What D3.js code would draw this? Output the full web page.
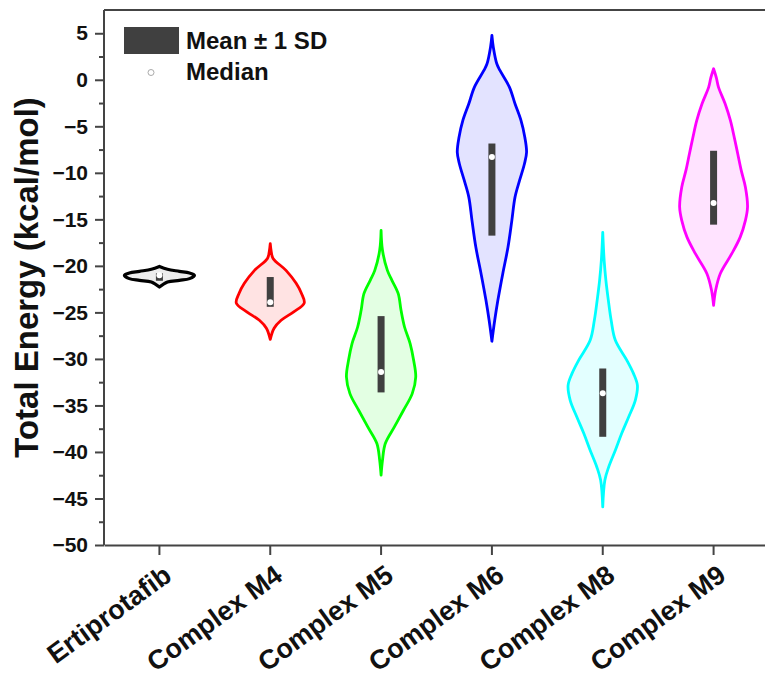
<!DOCTYPE html>
<html>
<head>
<meta charset="utf-8">
<script src="https://cdn.jsdelivr.net/npm/d3@7"></script>
<style>
  body { margin: 0; background: #fff; }
  svg { display: block; font-family: "Liberation Sans", Arial, sans-serif; font-weight: bold; }
</style>
</head>
<body>
<svg id="violin-plot"></svg>
<script>
// categories and summary stats
const groups = ["Ertiprotafib", "Complex M4", "Complex M5", "Complex M6", "Complex M8", "Complex M9"];
const means = [-21.2, -22.8, -29.5, -11.8, -34.7, -11.6];
const sds = [0.4, 1.6, 4.1, 4.95, 3.67, 3.97];
const medians = [-21.0, -23.9, -31.4, -8.3, -33.7, -13.25];

// violin outlines: energy levels (top to bottom) and relative density at each
const violinEnergy = [
    [-20.06, -20.37, -20.59, -20.77, -21.01, -21.37, -21.56, -21.74, -22.28],
    [-17.6, -18.5, -19.2, -20.48, -21.88, -22.95, -24.0, -24.96, -25.85, -26.7, -27.9],
    [-16.2, -18.33, -20.48, -21.55, -22.99, -24.78, -26.57, -28.36, -30.15, -31.94, -33.73, -35.52, -37.31, -39.1, -40.89, -42.5],
    [4.76, 3.5, 1.72, 1.0, -0.79, -2.58, -4.37, -6.17, -7.78, -9.02, -10.82, -12.61, -15.11, -17.98, -20.84, -23.7, -25.85, -28.1],
    [-16.4, -19.4, -21.56, -23.71, -25.85, -28.0, -30.15, -31.58, -32.84, -34.45, -36.24, -38.02, -39.81, -41.61, -43.04, -45.91],
    [1.18, 0.2, -0.79, -2.58, -4.37, -6.17, -7.95, -9.74, -11.54, -13.68, -15.11, -16.91, -18.69, -20.84, -22.6, -24.24]
];
const violinDensity = [
    [0, 0.23, 0.57, 0.86, 1.0, 0.86, 0.57, 0.23, 0],
    [0, 0.03, 0.08, 0.45, 0.74, 0.89, 0.97, 0.66, 0.31, 0.11, 0],
    [0, 0.04, 0.18, 0.31, 0.49, 0.57, 0.67, 0.83, 0.93, 0.99, 0.89, 0.64, 0.38, 0.12, 0.04, 0],
    [0, 0.04, 0.14, 0.23, 0.5, 0.66, 0.83, 0.94, 0.99, 0.93, 0.79, 0.66, 0.57, 0.46, 0.31, 0.17, 0.08, 0],
    [0, 0.04, 0.09, 0.16, 0.24, 0.36, 0.69, 0.88, 0.99, 0.93, 0.74, 0.54, 0.36, 0.17, 0.06, 0],
    [0, 0.08, 0.14, 0.33, 0.48, 0.59, 0.69, 0.79, 0.91, 0.97, 0.91, 0.76, 0.52, 0.19, 0.06, 0]
];

const majorTicks = d3.range(-50, 5.1, 5);
const minorTicks = d3.range(-47.5, 7.5, 5);
const legendLabels = ["Mean \u00b1 1 SD", "Median"];
const yTitle = "Total Energy (kcal/mol)";

const colors = ["#000000", "#ff0000", "#00ff00", "#0000ff", "#00ffff", "#ff00ff"];

const width = 765, height = 679;
const margin = { top: 10, left: 104, bottom: 134 };
const plotRight = 769;

const svg = d3.select("#violin-plot")
    .attr("width", width)
    .attr("height", height);

svg.append("rect").attr("width", width).attr("height", height).attr("fill", "#fff");

const x = d3.scaleBand()
    .domain(groups)
    .range([margin.left, plotRight]);

const y = d3.scaleLinear()
    .domain([-50, 7.5])
    .range([height - margin.bottom, margin.top]);

const w = d3.scaleLinear().domain([0, 1]).range([0, 35]);

// violins
groups.forEach((g, i) => {
    const cx = x(g) + x.bandwidth() / 2;
    const pts = violinEnergy[i].map((e, k) => ({ e: e, d: violinDensity[i][k] }));
    const area = d3.area()
        .y(d => y(d.e))
        .x0(d => cx - w(d.d))
        .x1(d => cx + w(d.d))
        .curve(d3.curveCatmullRom.alpha(0.5));
    svg.append("path")
        .datum(pts)
        .attr("d", area)
        .attr("fill", colors[i])
        .attr("fill-opacity", i === 0 ? 0.07 : 0.11)
        .attr("stroke", colors[i])
        .attr("stroke-width", i === 0 ? 3.2 : 2.8)
        .attr("stroke-linejoin", "round");
});

// mean +/- sd bars and medians
svg.selectAll(".sdbar")
    .data(groups)
    .enter().append("rect")
    .attr("class", "sdbar")
    .attr("x", d => x(d) + x.bandwidth() / 2 - 3.5)
    .attr("width", 7)
    .attr("y", (d, i) => y(means[i] + sds[i]))
    .attr("height", (d, i) => y(means[i] - sds[i]) - y(means[i] + sds[i]))
    .attr("fill", "#404040");

svg.selectAll(".median")
    .data(groups)
    .enter().append("circle")
    .attr("class", "median")
    .attr("cx", d => x(d) + x.bandwidth() / 2)
    .attr("cy", (d, i) => y(medians[i]))
    .attr("r", 3)
    .attr("fill", "#fff");

// frame
svg.append("line")
    .attr("x1", margin.left).attr("x2", plotRight)
    .attr("y1", margin.top).attr("y2", margin.top)
    .attr("stroke", "#444").attr("stroke-width", 2);

// y axis
const yAxis = svg.append("g")
    .attr("transform", `translate(${margin.left},0)`)
    .call(d3.axisLeft(y).tickValues(majorTicks).tickSize(9).tickSizeOuter(0).tickPadding(7).tickFormat(d3.format("d")));
svg.append("g")
    .attr("transform", `translate(${margin.left},0)`)
    .call(d3.axisLeft(y).tickValues(minorTicks).tickSize(5).tickFormat(""))
    .select(".domain").remove();

svg.selectAll(".tick line").attr("stroke", "#444").attr("stroke-width", 2);
yAxis.select(".domain").attr("stroke", "#444").attr("stroke-width", 2)
    .attr("d", `M0,${y(7.5)}V${y(-50)}`);
yAxis.selectAll("text")
    .style("font-size", "21px")
    .style("font-weight", "bold")
    .style("font-family", "Liberation Sans, Arial, sans-serif")
    .attr("fill", "#111");

// x axis
const xAxis = svg.append("g")
    .attr("transform", `translate(0,${y(-50)})`)
    .call(d3.axisBottom(x).tickSize(10).tickSizeOuter(0).tickFormat(""));
xAxis.select(".domain").attr("stroke", "#444").attr("stroke-width", 2);
xAxis.selectAll(".tick line").attr("stroke", "#444").attr("stroke-width", 2);

svg.selectAll(".xlabel")
    .data(groups)
    .enter().append("text")
    .attr("class", "xlabel")
    .attr("transform", d => `translate(${x(d) + x.bandwidth() / 2 + 14},${y(-50) + 34}) rotate(-36)`)
    .attr("text-anchor", "end")
    .style("font-size", "27px")
    .attr("fill", "#111")
    .text(d => d);

// y title
svg.append("text")
    .attr("transform", `translate(38,${(y(7.5) + y(-50)) / 2}) rotate(-90)`)
    .attr("text-anchor", "middle")
    .style("font-size", "33px")
    .attr("fill", "#111")
    .text(yTitle);

// legend
svg.append("rect")
    .attr("x", 124).attr("y", 27).attr("width", 55).attr("height", 27)
    .attr("fill", "#404040");
svg.append("circle")
    .attr("cx", 151).attr("cy", 72.5).attr("r", 3)
    .attr("fill", "#fff").attr("stroke", "#aaa").attr("stroke-width", 1);
svg.selectAll(".legtext")
    .data(legendLabels)
    .enter().append("text")
    .attr("class", "legtext")
    .attr("x", 186)
    .attr("y", (d, i) => 49 + i * 31)
    .style("font-size", "24px")
    .attr("fill", "#111")
    .text(d => d);
</script>
</body>
</html>
